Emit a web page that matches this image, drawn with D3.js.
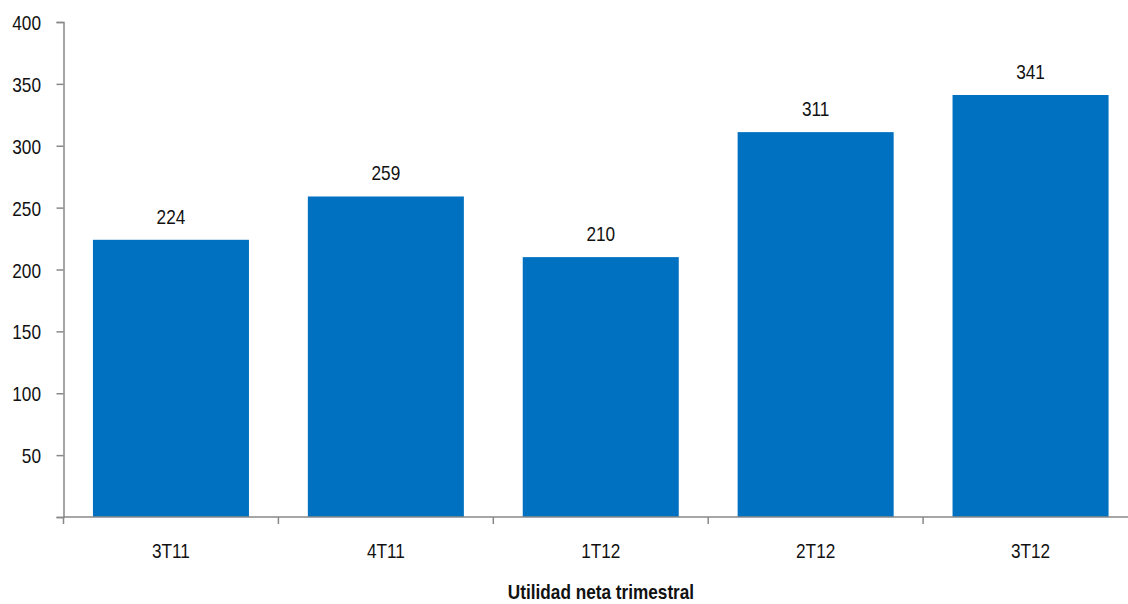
<!DOCTYPE html>
<html>
<head>
<meta charset="utf-8">
<script src="https://cdn.jsdelivr.net/npm/d3@7"></script>
<style>
  body { margin: 0; background: #fff; }
  text { font-family: "Liberation Sans", Arial, sans-serif; }
</style>
</head>
<body>
<div id="chart"></div>
<script>
// Quarterly values
const quarters = ['3T11', '4T11', '1T12', '2T12', '3T12'];
const utilidad = [224, 259, 210, 311, 341];
const yTicks = [0, 50, 100, 150, 200, 250, 300, 350, 400];
const xTitle = 'Utilidad neta trimestral';

const width = 1128;
const height = 604;
const margin = { top: 22, right: -10, left: 63.5, bottom: 87 };
const narrow = 0.82; // squeeze Liberation Sans to look like Arial Narrow

const svg = d3.select('#chart')
  .append('svg')
  .attr('width', width)
  .attr('height', height);

const chart = svg.append('g')
  .attr('transform', `translate(${margin.left}, ${margin.top})`);

const innerW = width - margin.left - margin.right;
const innerH = height - margin.top - margin.bottom;

const xScale = d3.scaleBand()
  .domain(quarters)
  .range([0, innerW])
  .paddingInner(0.274)
  .paddingOuter(0.137);

const yScale = d3.scaleLinear()
  .domain([0, 400])
  .range([innerH, 0]);

// bars
chart.selectAll('.bar')
  .data(utilidad)
  .enter()
  .append('rect')
  .attr('class', 'bar')
  .attr('x', (d, i) => xScale(quarters[i]))
  .attr('y', d => yScale(d))
  .attr('width', xScale.bandwidth())
  .attr('height', d => innerH - yScale(d))
  .attr('fill', '#0070c0');

// value labels
chart.selectAll('.val')
  .data(utilidad)
  .enter()
  .append('text')
  .attr('transform', (d, i) =>
    `translate(${xScale(quarters[i]) + xScale.bandwidth() / 2}, ${yScale(d) - 16}) scale(${narrow}, 1)`)
  .attr('text-anchor', 'middle')
  .attr('font-size', '21px')
  .attr('fill', '#111')
  .text(d => d);

// y axis
const yAxis = chart.append('g')
  .call(d3.axisLeft(yScale).tickValues(yTicks).tickSize(7)
    .tickFormat(d => d === 0 ? '' : d));
yAxis.select('.domain').attr('stroke', '#888').attr('stroke-width', 1.5);
yAxis.selectAll('.tick line').attr('stroke', '#888').attr('stroke-width', 1.5);
yAxis.selectAll('.tick text')
  .attr('font-size', '21px')
  .attr('fill', '#111')
  .attr('x', -22.5 / narrow)
  .attr('dy', '0.36em')
  .attr('transform', `scale(${narrow}, 1)`)
  .style('font-family', '"Liberation Sans", Arial, sans-serif');

// x axis with ticks at category boundaries
const step = xScale.step();
const boundaries = d3.range(quarters.length + 1).map(i => i * step);
const xAxis = chart.append('g')
  .attr('transform', `translate(0, ${innerH})`);
xAxis.append('line')
  .attr('x1', 0).attr('x2', innerW)
  .attr('y1', 0).attr('y2', 0)
  .attr('stroke', '#888').attr('stroke-width', 1.5);
xAxis.selectAll('.xt')
  .data(boundaries)
  .enter()
  .append('line')
  .attr('x1', d => d).attr('x2', d => d)
  .attr('y1', 0).attr('y2', 7)
  .attr('stroke', '#888').attr('stroke-width', 1.5);
xAxis.selectAll('.xl')
  .data(quarters)
  .enter()
  .append('text')
  .attr('transform', d => `translate(${xScale(d) + xScale.bandwidth() / 2}, 41) scale(${narrow}, 1)`)
  .attr('text-anchor', 'middle')
  .attr('font-size', '21px')
  .attr('fill', '#111')
  .text(d => d);

// axis title
svg.append('text')
  .attr('transform', 'translate(601, 599) scale(0.86, 1)')
  .attr('text-anchor', 'middle')
  .attr('font-size', '20px')
  .attr('font-weight', 'bold')
  .attr('fill', '#111')
  .text(xTitle);
</script>
</body>
</html>
